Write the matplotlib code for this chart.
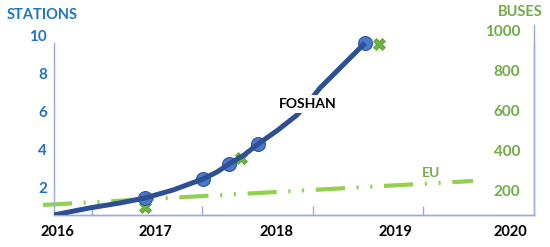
import matplotlib
matplotlib.use("Agg")
import matplotlib.pyplot as plt

# Foshan stations curve (fractional year, stations)
curve_x = [2015.974, 2016.291, 2016.556, 2016.777, 2017.024, 2017.289, 2017.413, 2017.519,
           2017.651, 2017.775, 2017.951, 2018.119, 2018.216, 2018.322, 2018.525, 2018.720]
curve_y = [0.53, 0.90, 1.16, 1.42, 1.84, 2.42, 2.79, 3.21,
           3.68, 4.26, 5.00, 5.79, 6.42, 7.21, 8.42, 9.58]
# station markers
stat_x = [2016.777, 2017.289, 2017.519, 2017.775, 2018.720]
stat_y = [1.42, 2.42, 3.21, 4.26, 9.58]
# Foshan buses (right axis)
bus_x = [2016.777, 2017.625, 2018.843]
bus_y = [115, 360, 930]
# EU buses trend (right axis)
eu_x = [2015.876, 2019.673]
eu_y = [125, 245]

year_labels = ["2016", "2017", "2018", "2019", "2020"]
year_label_x = [2016.0, 2016.87, 2017.94, 2018.99, 2020.0]
tick_marks_x = [2016.309, 2017.280, 2018.260, 2019.232]
station_ticks = [2, 4, 6, 8, 10]
bus_ticks = [200, 400, 600, 800, 1000]

BLUE_TXT = "#1f74c4"
GREEN_TXT = "#70ad47"
NAVY = "#2f4f94"
SPINE = "#9aa9e6"
FONT = "Lato"

fig = plt.figure(figsize=(5.5, 2.47), dpi=100)
W, H = 550, 247
ax = fig.add_axes([54 / W, 1 - 215 / H, (534 - 54) / W, (215 - 25) / H])
ax2 = ax.twinx()

ax.set_xlim(2015.974, 2020.212)
ax.set_ylim(0.526, 10.53)
ax2.set_ylim(75, 1025)

# EU line (dash-dot-dot)
ax2.plot(eu_x, eu_y, color="#92d050", lw=3.0, dashes=(7, 2.8, 0.5, 2.8, 0.5, 2.8),
         solid_capstyle="butt", clip_on=False, zorder=1)
# Foshan markers + curve on top
ax.plot(stat_x, stat_y, ls="none", marker="o", ms=10, mfc="#4a78cc",
        mec="#2f5597", mew=0.8, zorder=2)
ax.plot(curve_x, curve_y, color=NAVY, lw=3.6, solid_capstyle="butt",
        solid_joinstyle="round", zorder=3)
ax2.plot(bus_x, bus_y, ls="none", marker="X", ms=8, mfc="#6db33f",
         mec="#5a9a33", mew=0.5, zorder=4)
ax.set_zorder(ax2.get_zorder() + 1)
ax.patch.set_visible(False)

ax.text(2018.21, 6.37, "FOSHAN", ha="center", va="center", fontsize=10,
        fontweight="bold", family=FONT, color="black",
        bbox=dict(facecolor="white", edgecolor="none", pad=2))
ax2.text(2019.30, 285, "EU", ha="center", va="center", fontsize=10,
         fontweight="bold", family=FONT, color=GREEN_TXT)

# spines
for a in (ax, ax2):
    for s in a.spines.values():
        s.set_color(SPINE)
        s.set_linewidth(1.0)
    a.spines["top"].set_visible(False)
ax.spines["left"].set_bounds(0.526, 9.58)
ax2.spines["right"].set_bounds(75, 935)
ax2.spines["left"].set_visible(False)

# x axis
ax.set_xticks(tick_marks_x)
ax.set_xticklabels([])
ax.tick_params(axis="x", direction="in", length=6.5, color=SPINE, width=1)
for lbl, xp in zip(year_labels, year_label_x):
    ax.text(xp, -0.09, lbl, transform=ax.get_xaxis_transform(), ha="center",
            va="center", fontsize=10.5, fontweight="bold", family=FONT)

# y axes
ax.set_yticks(station_ticks)
ax.set_yticklabels([str(v) for v in station_ticks])
ax.tick_params(axis="y", length=0, pad=5, labelcolor=BLUE_TXT)
for t in ax.get_yticklabels():
    t.set_fontweight("bold")
    t.set_family(FONT)
    t.set_fontsize(11)

ax2.set_yticks(bus_ticks)
ax2.set_yticklabels([str(v) for v in bus_ticks])
ax2.tick_params(axis="y", length=0, pad=-10, labelcolor=GREEN_TXT)
for t in ax2.get_yticklabels():
    t.set_fontweight("bold")
    t.set_family(FONT)
    t.set_fontsize(11)
    t.set_ha("right")

fig.text(42 / W, 1 - 15 / H, "STATIONS", ha="center", va="center", fontsize=10.5,
         fontweight="bold", family=FONT, color=BLUE_TXT)
fig.text(520 / W, 1 - 12 / H, "BUSES", ha="center", va="center", fontsize=10.5,
         fontweight="bold", family=FONT, color=GREEN_TXT)

fig.savefig("out.png", dpi=100)
